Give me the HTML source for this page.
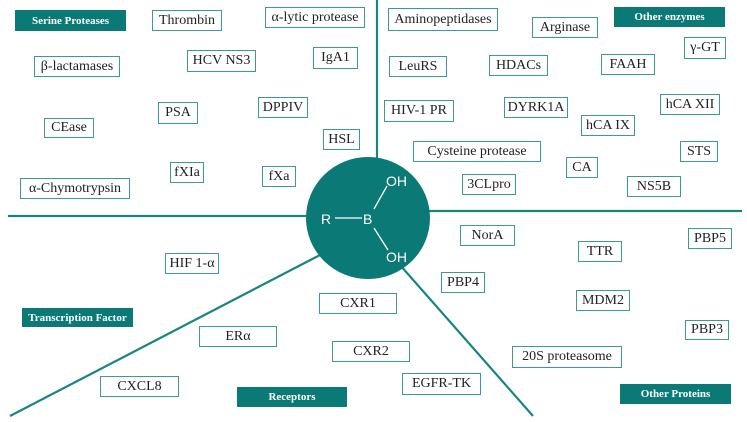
<!DOCTYPE html>
<html><head><meta charset="utf-8"><style>
body{margin:0;width:747px;height:422px;background:#fff;position:relative;overflow:hidden;font-family:"Liberation Serif",serif}
.b{position:absolute;box-sizing:border-box;border:1.5px solid #3a9a96;display:flex;align-items:center;justify-content:center;font-size:14px;color:#222;background:#fff;white-space:nowrap}
.f{position:absolute;box-sizing:border-box;background:#0b7a76;color:#fff;font-weight:bold;font-size:11px;display:flex;align-items:center;justify-content:center;white-space:nowrap}
svg{position:absolute;left:0;top:0}
</style></head><body>
<svg width="747" height="422">
<g stroke="#1a8580" stroke-width="2.2">
<line x1="377" y1="0" x2="377" y2="160"/>
<line x1="8" y1="216" x2="310" y2="216"/>
<line x1="428" y1="211" x2="742" y2="211"/>
<line x1="320" y1="255" x2="10" y2="416"/>
<line x1="400" y1="265" x2="533" y2="416"/>
</g>
<ellipse cx="368" cy="218" rx="62" ry="61" fill="#0b7a76"/>
<g stroke="#fff" stroke-width="1.3">
<line x1="335" y1="218" x2="362" y2="218"/>
<line x1="374" y1="209" x2="387" y2="186"/>
<line x1="374" y1="228" x2="388" y2="250"/>
</g>
<g fill="#fff" font-family="Liberation Sans,sans-serif" font-size="14">
<text x="321" y="224">R</text>
<text x="363" y="224">B</text>
<text x="386" y="186">OH</text>
<text x="386" y="262">OH</text>
</g>
</svg>
<div class="f" style="left:15px;top:10px;width:111px;height:21px">Serine Proteases</div>
<div class="b" style="left:152px;top:10px;width:70px;height:21px">Thrombin</div>
<div class="b" style="left:265px;top:7px;width:100px;height:21px">α-lytic protease</div>
<div class="b" style="left:34px;top:56px;width:86px;height:21px">β-lactamases</div>
<div class="b" style="left:187px;top:50px;width:69px;height:22px">HCV NS3</div>
<div class="b" style="left:313px;top:47px;width:45px;height:22px">IgA1</div>
<div class="b" style="left:158px;top:102px;width:40px;height:22px">PSA</div>
<div class="b" style="left:258px;top:97px;width:50px;height:21px">DPPIV</div>
<div class="b" style="left:44px;top:118px;width:50px;height:20px">CEase</div>
<div class="b" style="left:323px;top:129px;width:37px;height:21px">HSL</div>
<div class="b" style="left:170px;top:162px;width:34px;height:21px">fXIa</div>
<div class="b" style="left:262px;top:166px;width:34px;height:21px">fXa</div>
<div class="b" style="left:20px;top:178px;width:110px;height:21px">α-Chymotrypsin</div>
<div class="b" style="left:388px;top:8px;width:110px;height:23px">Aminopeptidases</div>
<div class="b" style="left:532px;top:17px;width:66px;height:21px">Arginase</div>
<div class="f" style="left:614px;top:7px;width:111px;height:20px">Other enzymes</div>
<div class="b" style="left:684px;top:37px;width:42px;height:22px">γ-GT</div>
<div class="b" style="left:389px;top:56px;width:58px;height:21px">LeuRS</div>
<div class="b" style="left:489px;top:55px;width:59px;height:21px">HDACs</div>
<div class="b" style="left:601px;top:54px;width:54px;height:21px">FAAH</div>
<div class="b" style="left:384px;top:100px;width:70px;height:22px">HIV-1 PR</div>
<div class="b" style="left:504px;top:97px;width:64px;height:21px">DYRK1A</div>
<div class="b" style="left:660px;top:94px;width:60px;height:21px">hCA XII</div>
<div class="b" style="left:581px;top:115px;width:54px;height:21px">hCA IX</div>
<div class="b" style="left:413px;top:141px;width:128px;height:21px">Cysteine protease</div>
<div class="b" style="left:680px;top:141px;width:38px;height:21px">STS</div>
<div class="b" style="left:566px;top:157px;width:32px;height:21px">CA</div>
<div class="b" style="left:462px;top:174px;width:54px;height:21px">3CLpro</div>
<div class="b" style="left:627px;top:176px;width:54px;height:21px">NS5B</div>
<div class="b" style="left:460px;top:225px;width:55px;height:21px">NorA</div>
<div class="b" style="left:688px;top:228px;width:44px;height:21px">PBP5</div>
<div class="b" style="left:578px;top:241px;width:44px;height:21px">TTR</div>
<div class="b" style="left:165px;top:253px;width:54px;height:21px">HIF 1-α</div>
<div class="b" style="left:441px;top:272px;width:44px;height:21px">PBP4</div>
<div class="b" style="left:319px;top:293px;width:78px;height:21px">CXR1</div>
<div class="b" style="left:576px;top:290px;width:54px;height:21px">MDM2</div>
<div class="f" style="left:22px;top:308px;width:111px;height:19px">Transcription Factor</div>
<div class="b" style="left:199px;top:326px;width:78px;height:21px">ERα</div>
<div class="b" style="left:685px;top:320px;width:44px;height:20px">PBP3</div>
<div class="b" style="left:332px;top:341px;width:78px;height:21px">CXR2</div>
<div class="b" style="left:512px;top:346px;width:110px;height:22px">20S proteasome</div>
<div class="b" style="left:100px;top:376px;width:79px;height:21px">CXCL8</div>
<div class="f" style="left:237px;top:387px;width:110px;height:20px">Receptors</div>
<div class="b" style="left:402px;top:373px;width:79px;height:22px">EGFR-TK</div>
<div class="f" style="left:620px;top:384px;width:111px;height:20px">Other Proteins</div>
</body></html>
